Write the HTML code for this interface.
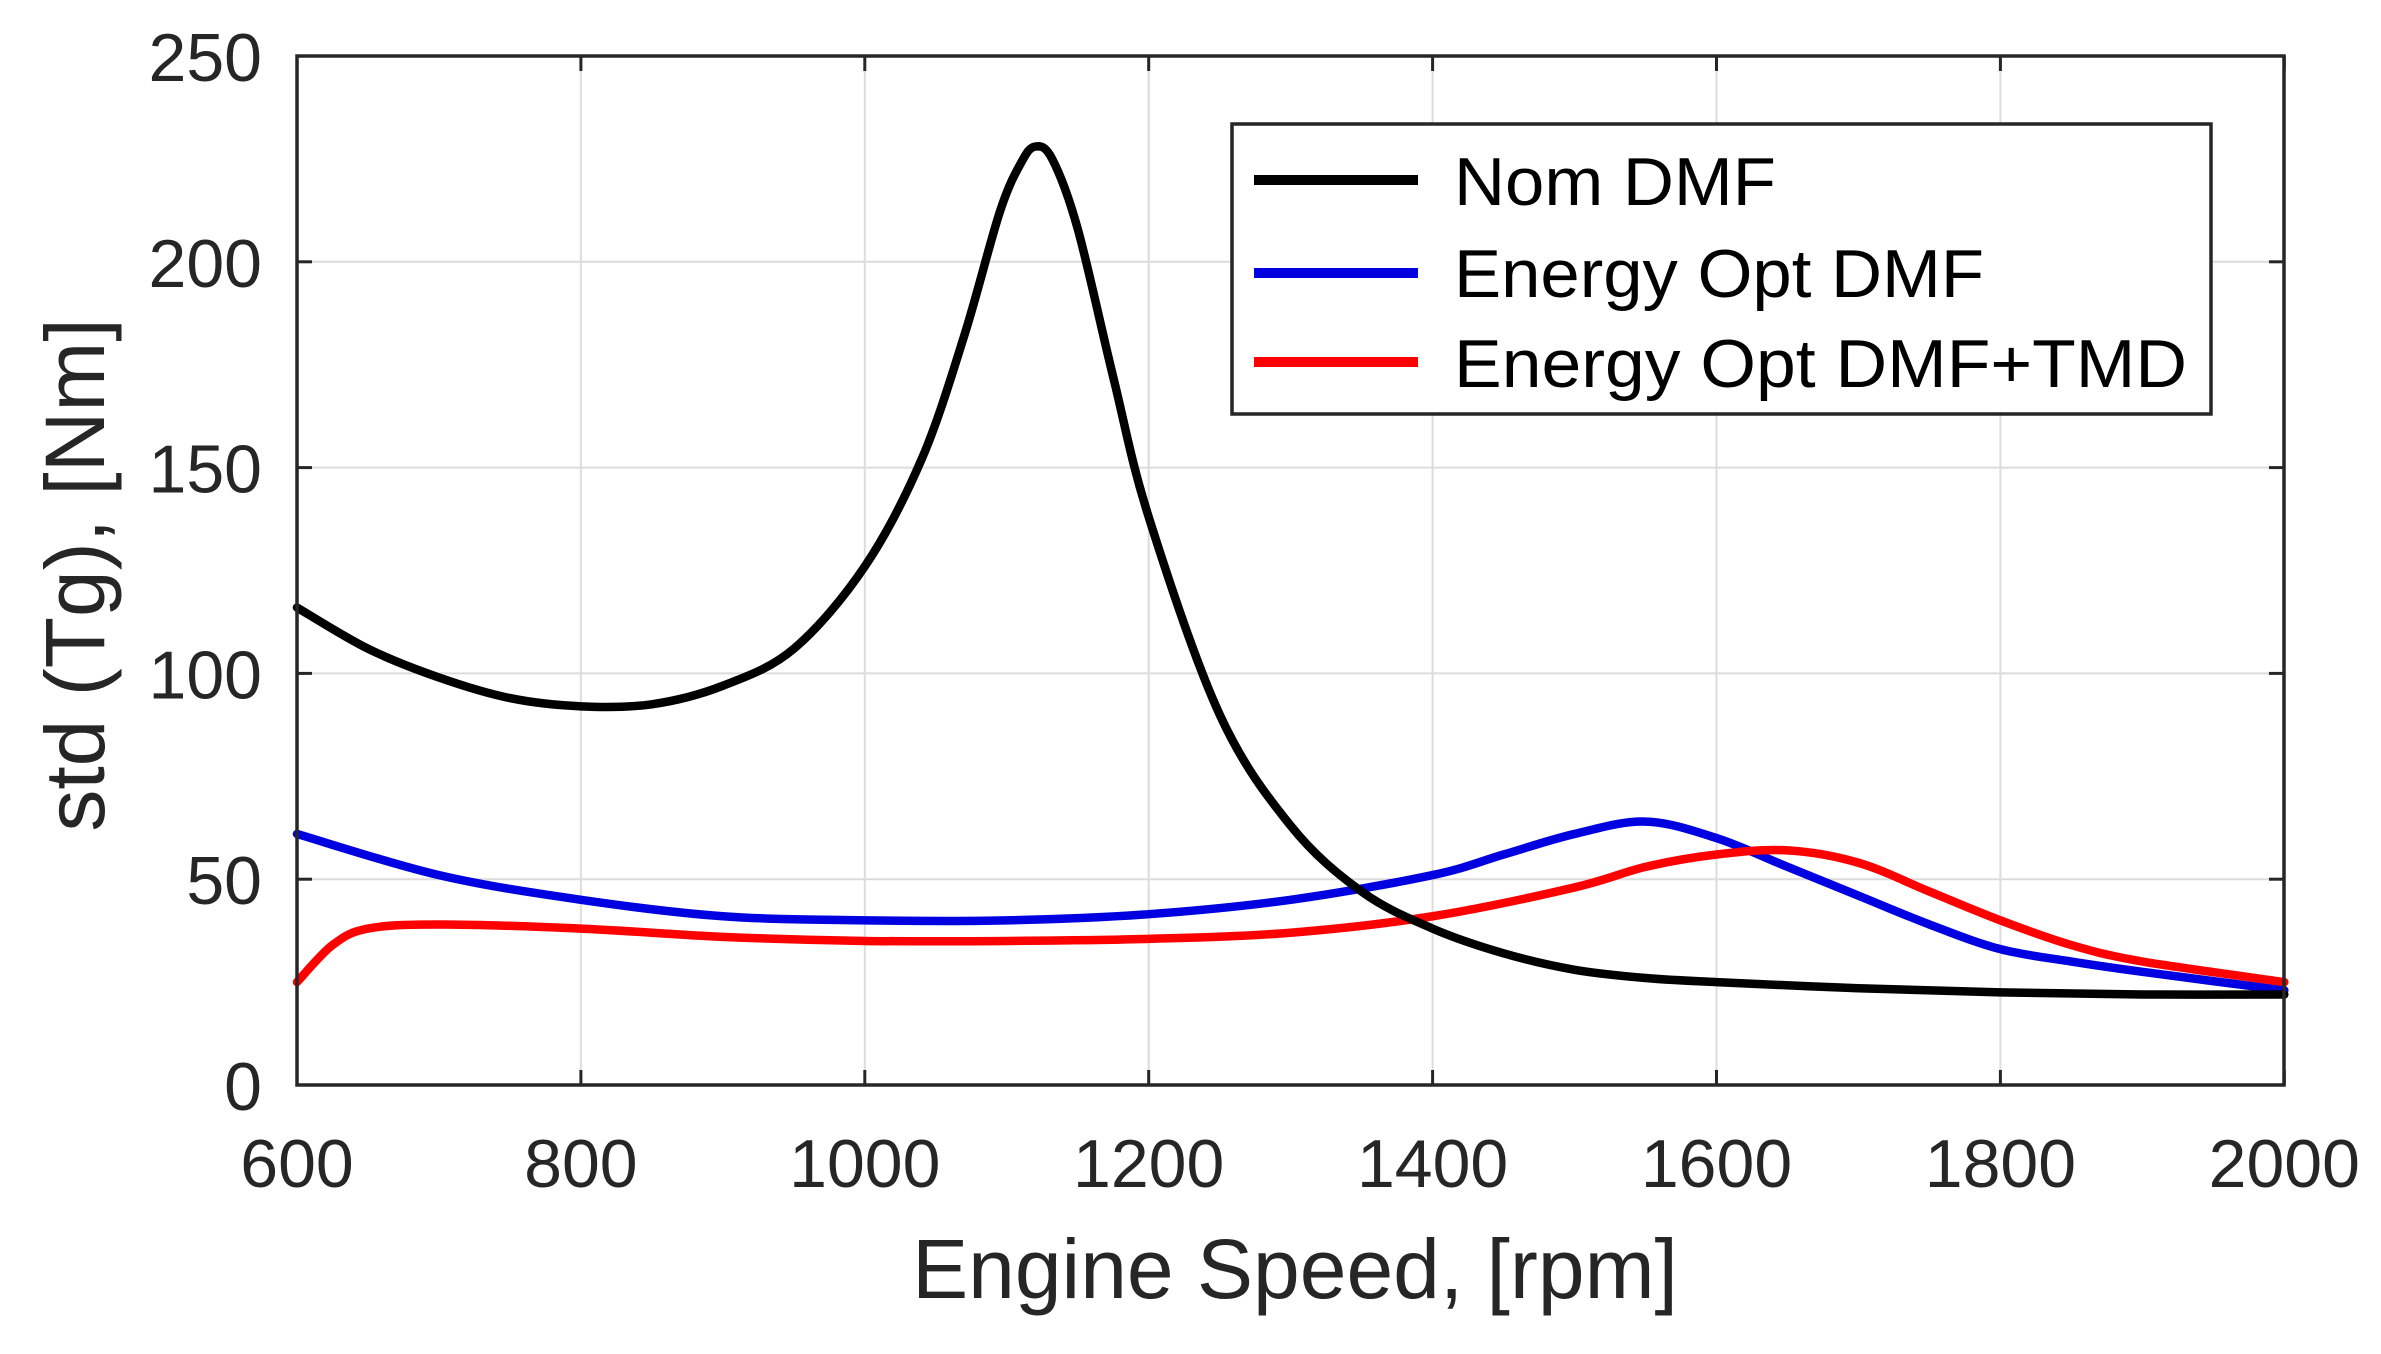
<!DOCTYPE html>
<html><head><meta charset="utf-8"><style>
html,body{margin:0;padding:0;background:#fff;}
svg{display:block;font-family:"Liberation Sans",Arial,sans-serif;}
</style></head><body>
<svg id="s" width="2381" height="1354" viewBox="0 0 2381 1354" xmlns="http://www.w3.org/2000/svg">
<rect width="2381" height="1354" fill="#fff"/>
<g id="grid" stroke="#dcdcdc" stroke-width="2"></g>
<g id="curves" fill="none" stroke-width="8.5" stroke-linejoin="round" stroke-linecap="round"></g>
<rect x="297" y="56" width="1987" height="1029" fill="none" stroke="#262626" stroke-width="3.5"/>
<g id="ticks" stroke="#262626" stroke-width="3"></g>
<g id="labels" fill="#262626" font-size="68"></g>
<text x="1295" y="1298" font-size="84" fill="#262626" text-anchor="middle">Engine Speed, [rpm]</text>
<text transform="translate(104,575) rotate(-90)" font-size="84" fill="#262626" text-anchor="middle">std (Tg), [Nm]</text>
<rect x="1232" y="124" width="979" height="290" fill="#fff" stroke="#262626" stroke-width="3.5"/>
<line x1="1254" y1="180" x2="1418" y2="180" stroke="#000" stroke-width="10"/>
<line x1="1254" y1="273" x2="1418" y2="273" stroke="#0000e0" stroke-width="10"/>
<line x1="1254" y1="362" x2="1418" y2="362" stroke="#f00" stroke-width="10"/>
<g font-size="68" fill="#000">
<text x="1454" y="205" textLength="322" lengthAdjust="spacingAndGlyphs">Nom DMF</text>
<text x="1454" y="297" textLength="530" lengthAdjust="spacingAndGlyphs">Energy Opt DMF</text>
<text x="1454" y="387" textLength="733" lengthAdjust="spacingAndGlyphs">Energy Opt DMF+TMD</text>
</g>
</svg>
<script>
const NS="http://www.w3.org/2000/svg";
const X=v=>297+(v-600)*1.4195, Y=v=>1085-v*4.116;
function el(p,t,a,txt){const e=document.createElementNS(NS,t);for(const k in a)e.setAttribute(k,a[k]);if(txt!==undefined)e.textContent=txt;document.getElementById(p).appendChild(e);return e;}
for(let v=800;v<2000;v+=200){el('grid','line',{x1:X(v),y1:56,x2:X(v),y2:1085});}
for(let v=50;v<250;v+=50){el('grid','line',{x1:297,y1:Y(v),x2:2284,y2:Y(v)});}
for(let v=600;v<=2000;v+=200){const x=X(v);el('ticks','line',{x1:x,y1:1085,x2:x,y2:1070});el('ticks','line',{x1:x,y1:56,x2:x,y2:71});
 el('labels','text',{x:x,y:1187,'text-anchor':'middle'},String(v));}
for(let v=0;v<=250;v+=50){const y=Y(v);el('ticks','line',{x1:297,y1:y,x2:312,y2:y});el('ticks','line',{x1:2284,y1:y,x2:2269,y2:y});
 el('labels','text',{x:262,y:y+25,'text-anchor':'end'},String(v));}
function cr(pts){let d="";const P=pts.map(p=>[X(p[0]),Y(p[1])]);d="M"+P[0][0]+","+P[0][1];
 for(let i=0;i<P.length-1;i++){const p0=P[Math.max(i-1,0)],p1=P[i],p2=P[i+1],p3=P[Math.min(i+2,P.length-1)];
 const c1=[p1[0]+(p2[0]-p0[0])/6,p1[1]+(p2[1]-p0[1])/6],c2=[p2[0]-(p3[0]-p1[0])/6,p2[1]-(p3[1]-p1[1])/6];
 d+=" C"+c1+" "+c2+" "+p2;}return d;}
const black=[[600,116],[650,106],[700,99],[750,94],[800,92],[850,92.5],[900,97],[950,106],[1000,126],[1040,152],[1070,182],[1095,212],[1110,224],[1120,228],[1132,225],[1150,208],[1175,172],[1200,138],[1250,90],[1300,63],[1350,47],[1400,38],[1450,32],[1500,28],[1550,26],[1600,25],[1700,23.5],[1800,22.5],[1900,22],[2000,22]];
const blue=[[600,61],[700,51],[800,45],[900,41],[1000,40],[1100,40],[1200,41.5],[1300,45],[1400,51],[1450,56],[1500,61],[1550,64],[1600,60],[1650,53],[1700,46],[1750,39],[1800,33],[1850,30],[1900,27.5],[2000,23]];
const red=[[600,25],[625,34],[650,38],[700,39],[800,38],[900,36],[1000,35],[1100,35],[1200,35.5],[1300,37],[1400,41],[1500,48],[1550,53],[1600,56],[1650,57],[1700,54],[1750,47],[1800,40],[1850,34],[1900,30],[2000,25]];
el('curves','path',{d:cr(blue),stroke:'#0000e0'});
el('curves','path',{d:cr(red),stroke:'#ff0000'});
el('curves','path',{d:cr(black),stroke:'#000'});
</script>
</body></html>
